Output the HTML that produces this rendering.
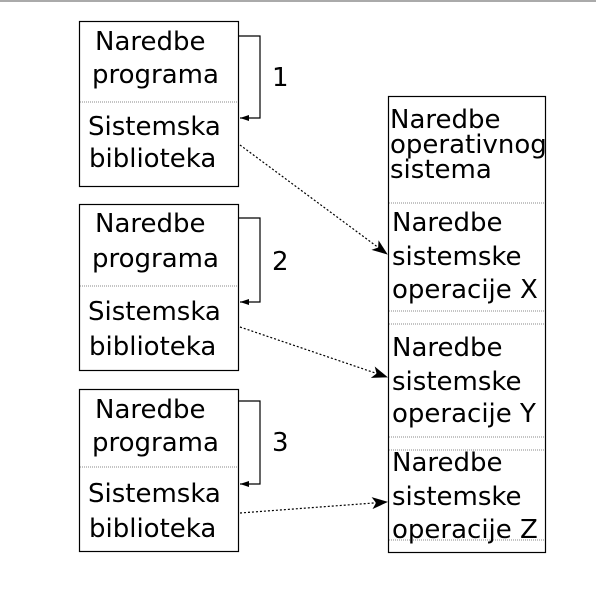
<!DOCTYPE html>
<html><head><style>
html,body{margin:0;padding:0;background:#fff}
svg text{font-family:"DejaVu Sans","Liberation Sans",sans-serif;font-size:26px;fill:#000}
</style></head><body>
<svg width="596" height="593" viewBox="0 0 596 593" xmlns="http://www.w3.org/2000/svg">
<defs>
<marker id="ah" markerWidth="16" markerHeight="12" refX="15" refY="6" orient="auto" markerUnits="userSpaceOnUse">
<path d="M0,0 L16,6 L0,12 L4,6 Z" fill="#000"/></marker>
<marker id="sm" markerWidth="9" markerHeight="6" refX="9" refY="3" orient="auto" markerUnits="userSpaceOnUse">
<path d="M0,0 L9,3 L0,6 Z" fill="#000"/></marker>
</defs>
<line x1="0" y1="1" x2="596" y2="1" stroke="#aaa" stroke-width="2"/>
<g fill="none" stroke="#000" stroke-width="1.2">
<rect x="79.5" y="21.5" width="159" height="165"/>
<rect x="79.5" y="204.5" width="159" height="166"/>
<rect x="79.5" y="389.5" width="159" height="162"/>
<rect x="388.5" y="96.5" width="157" height="456"/>
<path d="M238,36 H260 V118 H240" marker-end="url(#sm)"/>
<path d="M238,218 H260 V302 H240" marker-end="url(#sm)"/>
<path d="M238,401 H260 V484 H240" marker-end="url(#sm)"/>
</g>
<g stroke="#888" stroke-width="1" stroke-dasharray="1,1">
<line x1="80" y1="102" x2="238" y2="102"/>
<line x1="80" y1="286" x2="238" y2="286"/>
<line x1="80" y1="467" x2="238" y2="467"/>
<line x1="389" y1="203" x2="545" y2="203"/>
<line x1="389" y1="311" x2="545" y2="311"/>
<line x1="389" y1="324" x2="545" y2="324"/>
<line x1="389" y1="437" x2="545" y2="437"/>
<line x1="389" y1="450" x2="545" y2="450"/>
<line x1="389" y1="540" x2="545" y2="540"/>
</g>
<g stroke="#000" stroke-width="1.2" stroke-dasharray="2,2" fill="none">
<line x1="240" y1="145" x2="387" y2="254" marker-end="url(#ah)"/>
<line x1="240" y1="327" x2="387" y2="377" marker-end="url(#ah)"/>
<line x1="240" y1="513" x2="387" y2="502" marker-end="url(#ah)"/>
</g>
<text x="95" y="50">Naredbe</text>
<text x="92" y="83">programa</text>
<text x="88" y="135">Sistemska</text>
<text x="89" y="167">biblioteka</text>
<text x="95" y="232">Naredbe</text>
<text x="92" y="267">programa</text>
<text x="88" y="320">Sistemska</text>
<text x="89" y="355">biblioteka</text>
<text x="95" y="418">Naredbe</text>
<text x="92" y="451">programa</text>
<text x="88" y="502">Sistemska</text>
<text x="89" y="537">biblioteka</text>
<text x="272" y="86">1</text>
<text x="272" y="270">2</text>
<text x="272" y="451">3</text>
<text x="390" y="128">Naredbe</text>
<text x="390" y="153">operativnog</text>
<text x="390" y="178">sistema</text>
<text x="392" y="231">Naredbe</text>
<text x="392" y="265">sistemske</text>
<text x="392" y="298">operacije X</text>
<text x="392" y="356">Naredbe</text>
<text x="392" y="390">sistemske</text>
<text x="392" y="422">operacije Y</text>
<text x="392" y="471">Naredbe</text>
<text x="392" y="505">sistemske</text>
<text x="392" y="538">operacije Z</text>
</svg>
</body></html>
